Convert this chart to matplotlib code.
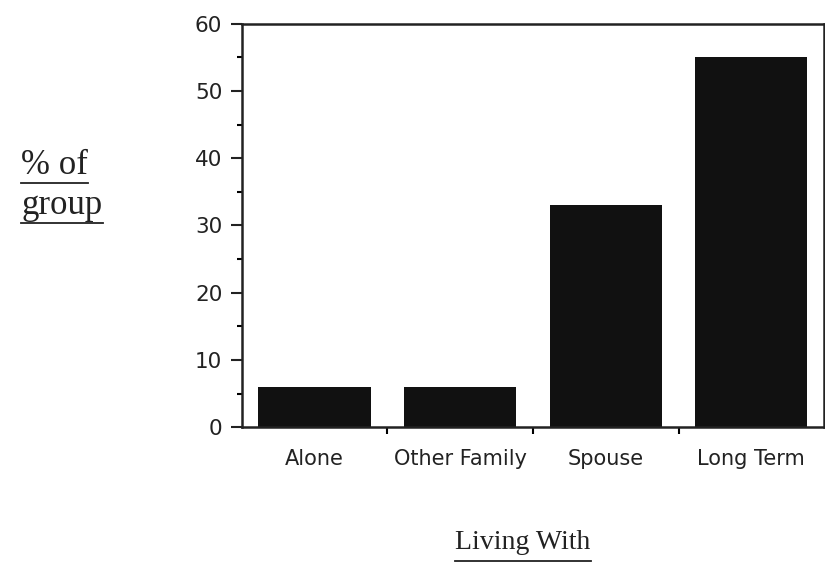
import matplotlib
matplotlib.use("Agg")
import matplotlib.pyplot as plt
from matplotlib.lines import Line2D

categories = ["Alone", "Other Family", "Spouse", "Long Term"]
percents = [6, 6, 33, 55]
y_ticks = [0, 10, 20, 30, 40, 50, 60]

fig = plt.figure(figsize=(8.25, 5.68), dpi=100)
ax = fig.add_axes([0.293, 0.248, 0.706, 0.710])

x = range(len(categories))
ax.bar(x, percents, width=0.77, color="#111111")

ax.set_xlim(-0.5, len(categories) - 0.5)
ax.set_ylim(0, 60)
ax.set_yticks(y_ticks)
ax.set_yticks(range(5, 60, 10), minor=True)
ax.tick_params(axis="y", which="major", direction="out", length=8, width=1.5,
               labelsize=15.5, pad=6, colors="#222222")
ax.tick_params(axis="y", which="minor", direction="out", length=3.5, width=1.5)

# category labels at centres, ticks at boundaries
ax.set_xticks(list(x))
ax.set_xticklabels(categories)
ax.tick_params(axis="x", which="major", length=0, labelsize=15, pad=16, colors="#222222")
ax.set_xticks([i + 0.5 for i in range(len(categories) - 1)], minor=True)
ax.tick_params(axis="x", which="minor", direction="out", length=5, width=1.5)

for s in ax.spines.values():
    s.set_linewidth(1.8)
    s.set_color("#222222")

for lab in ax.get_xticklabels() + ax.get_yticklabels():
    lab.set_family("DejaVu Sans")

serif = "Liberation Serif"
t1 = fig.text(0.026, 1 - 174 / 568, "% of", family=serif, fontsize=25,
              va="baseline", color="#222222")
t2 = fig.text(0.026, 1 - 214 / 568, "group", family=serif, fontsize=25,
              va="baseline", color="#222222")
t3 = fig.text(0.634, 1 - 549 / 568, "Living With", family=serif, fontsize=20,
              ha="center", va="baseline", color="#222222")

fig.canvas.draw()
r = fig.canvas.get_renderer()
W, H = fig.bbox.width, fig.bbox.height
for t, off in [(t1, 1), (t2, 1), (t3, 6)]:
    bb = t.get_window_extent(r)
    yb = (bb.y0 - off) / H
    fig.add_artist(Line2D([bb.x0 / W, bb.x1 / W], [yb, yb], color="#222222", lw=1.3))

fig.savefig("out.png", dpi=100)
